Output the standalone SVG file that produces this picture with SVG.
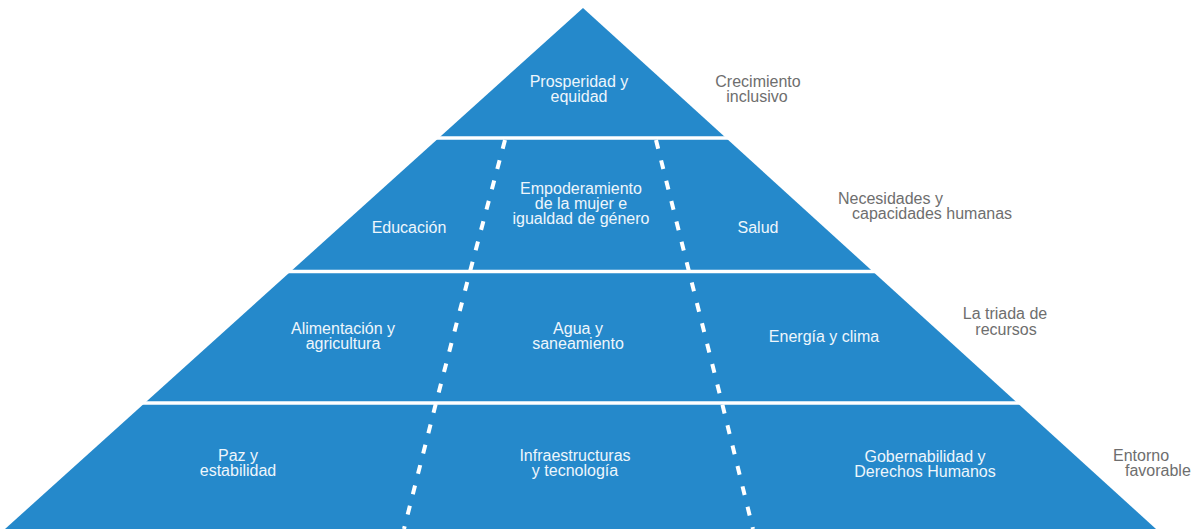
<svg xmlns="http://www.w3.org/2000/svg" width="1199" height="529" viewBox="0 0 1199 529">
<style>
.in{font-family:"Liberation Sans",Arial,sans-serif;font-size:16px;fill:#EEF6FC;text-anchor:middle}
.side{font-family:"Liberation Sans",Arial,sans-serif;font-size:16px;fill:#6E6E6E}
.sep{stroke:#FFFFFF;stroke-width:3.5}
.dash{fill:none;stroke:#FFFFFF;stroke-width:4;stroke-dasharray:9 12}
</style>
<rect width="1199" height="529" fill="#FFFFFF"/>
<g id="pyramid">
<polygon points="583,8 1156,529 5,529" fill="#2589CB"/>
<line class="sep" x1="0" y1="138" x2="1199" y2="138"/>
<line class="sep" x1="0" y1="271.5" x2="1199" y2="271.5"/>
<line class="sep" x1="0" y1="403" x2="1199" y2="403"/>
</g>
<g id="connectors">
<path class="dash" d="M505,140 L470,271.5 L436,403 L404,529"/>
<path class="dash" d="M656,140 L689,271.5 L722,403 L753,529"/>
</g>
<g id="prosperidad"><text class="in" x="579" y="87">Prosperidad y</text><text class="in" x="579" y="102">equidad</text></g>
<g id="educacion"><text class="in" x="409" y="233">Educación</text></g>
<g id="empoderamiento"><text class="in" x="581" y="194">Empoderamiento</text><text class="in" x="581" y="209">de la mujer e</text><text class="in" x="581" y="224">igualdad de género</text></g>
<g id="salud"><text class="in" x="758" y="233">Salud</text></g>
<g id="alimentacion"><text class="in" x="343" y="334">Alimentación y</text><text class="in" x="343" y="349">agricultura</text></g>
<g id="agua"><text class="in" x="578" y="334">Agua y</text><text class="in" x="578" y="349">saneamiento</text></g>
<g id="energia"><text class="in" x="824" y="342">Energía y clima</text></g>
<g id="paz"><text class="in" x="238" y="461">Paz y</text><text class="in" x="238" y="476">estabilidad</text></g>
<g id="infraestructuras"><text class="in" x="575" y="461">Infraestructuras</text><text class="in" x="575" y="476">y tecnología</text></g>
<g id="gobernabilidad"><text class="in" x="925" y="462">Gobernabilidad y</text><text class="in" x="925" y="477">Derechos Humanos</text></g>
<g id="crecimiento"><text class="side" x="758" y="87" text-anchor="middle">Crecimiento</text><text class="side" x="757" y="102" text-anchor="middle">inclusivo</text></g>
<g id="necesidades"><text class="side" x="838" y="204">Necesidades y</text><text class="side" x="852" y="219">capacidades humanas</text></g>
<g id="triada"><text class="side" x="1005" y="319" text-anchor="middle">La triada de</text><text class="side" x="1006" y="335" text-anchor="middle">recursos</text></g>
<g id="entorno"><text class="side" x="1113" y="461">Entorno</text><text class="side" x="1125" y="476">favorable</text></g>
</svg>
